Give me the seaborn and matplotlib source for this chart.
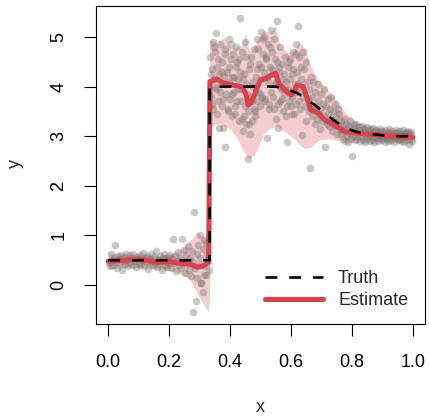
import matplotlib
matplotlib.use("Agg")
import matplotlib.pyplot as plt
import seaborn as sns
import pandas as pd
import numpy as np

# ---------------- data ----------------
left_x = [0.003, 0.006, 0.010, 0.013, 0.016, 0.020, 0.023, 0.026, 0.030, 0.033,
          0.036, 0.040, 0.043, 0.046, 0.050, 0.053, 0.056, 0.060, 0.063, 0.066,
          0.070, 0.073, 0.076, 0.080, 0.083, 0.086, 0.090, 0.093, 0.096, 0.100,
          0.103, 0.106, 0.110, 0.113, 0.116, 0.120, 0.123, 0.126, 0.130, 0.133,
          0.136, 0.140, 0.143, 0.146, 0.150, 0.153, 0.156, 0.160, 0.163, 0.166,
          0.170, 0.173, 0.176, 0.180, 0.183, 0.186, 0.190, 0.193, 0.196, 0.200,
          0.203, 0.206, 0.210, 0.213, 0.216, 0.220, 0.223, 0.226, 0.230, 0.233,
          0.236, 0.240, 0.243, 0.246, 0.250, 0.253, 0.256, 0.260, 0.263, 0.266,
          0.270, 0.273, 0.276, 0.280, 0.283, 0.286, 0.290, 0.293, 0.296, 0.300,
          0.303, 0.306, 0.310, 0.313, 0.316, 0.320, 0.323, 0.326, 0.330]
left_y = [0.45, 0.38, 0.62, 0.50, 0.41, 0.55, 0.80, 0.47, 0.35, 0.58,
          0.52, 0.44, 0.61, 0.30, 0.49, 0.56, 0.42, 0.63, 0.51, 0.39,
          0.60, 0.46, 0.55, 0.40, 0.62, 0.48, 0.36, 0.57, 0.53, 0.45,
          0.60, 0.41, 0.50, 0.64, 0.38, 0.55, 0.47, 0.59, 0.33, 0.52,
          0.44, 0.62, 0.49, 0.40, 0.57, 0.46, 0.68, 0.36, 0.51, 0.43,
          0.58, 0.48, 0.30, 0.55, 0.62, 0.41, 0.50, 0.37, 0.56, 0.45,
          0.60, 0.34, 0.52, 0.93, 0.44, 0.58, 0.28, 0.49, 0.66, 0.40,
          0.55, 0.35, 0.93, 0.47, 0.70, 0.25, 0.60, 0.42, 0.78, 0.30,
          0.55, 0.18, 0.68, 0.46, 1.47, 0.35, 0.62, 0.15, 0.80, 0.40,
          0.55, 0.05, 0.72, 0.38, 0.90, 0.20, 0.50, 0.62, 0.30]

mid_x = [0.335, 0.338, 0.340, 0.343, 0.345, 0.348, 0.350, 0.353, 0.355, 0.358,
         0.360, 0.363, 0.365, 0.368, 0.370, 0.373, 0.375, 0.378, 0.380, 0.383,
         0.385, 0.388, 0.390, 0.393, 0.395, 0.398, 0.400, 0.403, 0.405, 0.408,
         0.410, 0.413, 0.415, 0.418, 0.420, 0.423, 0.425, 0.428, 0.430, 0.433,
         0.435, 0.438, 0.440, 0.443, 0.445, 0.448, 0.450, 0.453, 0.455, 0.458,
         0.460, 0.463, 0.465, 0.468, 0.470, 0.473, 0.475, 0.478, 0.480, 0.483,
         0.485, 0.488, 0.490, 0.493, 0.495, 0.498, 0.500, 0.503, 0.505, 0.508,
         0.510, 0.513, 0.515, 0.518, 0.520, 0.523, 0.525, 0.528, 0.530, 0.533,
         0.535, 0.538, 0.540, 0.543, 0.545, 0.548, 0.550, 0.553, 0.555, 0.558,
         0.560, 0.563, 0.565, 0.568, 0.570, 0.573, 0.575, 0.578, 0.580, 0.583,
         0.585, 0.588, 0.590, 0.593, 0.595, 0.598, 0.600, 0.603, 0.605, 0.608,
         0.610, 0.613, 0.615, 0.618, 0.620, 0.623, 0.625, 0.628, 0.630, 0.633,
         0.635, 0.638, 0.640, 0.643, 0.645, 0.648, 0.650, 0.653, 0.655, 0.658,
         0.660, 0.663, 0.665]
mid_y = [4.60, 3.80, 4.35, 4.90, 3.55, 4.15, 4.70, 3.95, 5.08, 4.40,
         3.70, 4.25, 3.16, 4.85, 4.05, 3.60, 4.50, 3.16, 4.20, 2.78,
         4.75, 3.85, 4.30, 3.50, 4.95, 4.10, 3.75, 4.55, 3.40, 4.20,
         4.65, 3.90, 3.45, 4.40, 4.80, 3.70, 4.15, 3.30, 4.55, 5.38,
         3.95, 3.35, 4.70, 3.10, 4.25, 3.60, 4.90, 3.25, 4.05, 2.54,
         3.50, 4.35, 3.05, 3.80, 4.60, 3.30, 4.10, 3.55, 4.75, 3.40,
         4.20, 3.70, 4.95, 3.90, 4.45, 3.60, 5.10, 4.15, 3.80, 4.65,
         4.30, 5.00, 3.75, 4.55, 2.96, 4.85, 4.10, 3.65, 4.40, 5.15,
         3.90, 4.70, 4.25, 3.55, 4.95, 4.05, 3.35, 5.32, 4.50, 3.16,
         4.30, 3.70, 4.80, 3.95, 4.45, 3.50, 4.15, 3.85, 4.60, 3.40,
         4.10, 2.88, 4.40, 3.70, 3.95, 4.55, 3.60, 4.25, 3.80, 4.70,
         3.45, 4.05, 4.85, 3.65, 4.30, 5.22, 3.90, 4.60, 3.55, 4.15,
         3.02, 4.70, 3.80, 4.35, 3.60, 4.50, 3.30, 4.10, 3.75, 3.95,
         3.50, 2.36, 4.20]

mid2_x = [0.337, 0.342, 0.347, 0.352, 0.357, 0.362, 0.367, 0.372, 0.377, 0.382,
          0.387, 0.392, 0.397, 0.402, 0.407, 0.412, 0.417, 0.422, 0.427, 0.432,
          0.437, 0.442, 0.447, 0.452, 0.457, 0.462, 0.467, 0.472, 0.477, 0.482,
          0.487, 0.492, 0.497, 0.502, 0.507, 0.512, 0.517, 0.522, 0.527, 0.532,
          0.537, 0.542, 0.547, 0.552, 0.557, 0.562, 0.567, 0.572, 0.577, 0.582,
          0.587, 0.592, 0.597, 0.602, 0.607, 0.612, 0.617, 0.622, 0.627, 0.632]
mid2_y = [4.25, 3.65, 4.80, 4.00, 3.45, 4.55, 3.90, 4.30, 3.75, 4.65,
          4.05, 3.55, 4.40, 4.85, 3.85, 4.20, 3.60, 4.50, 3.95, 4.30,
          3.70, 4.15, 3.40, 4.60, 3.85, 3.25, 4.45, 3.70, 4.00, 3.50,
          4.35, 4.75, 3.85, 4.40, 4.95, 3.70, 4.60, 4.20, 3.55, 4.80,
          4.35, 3.80, 4.55, 4.10, 3.65, 4.40, 4.00, 3.75, 4.25, 3.95,
          3.60, 4.50, 4.15, 3.45, 4.35, 3.90, 4.65, 4.05, 3.70, 4.40]

trans_x = [0.668, 0.670, 0.673, 0.675, 0.678, 0.680, 0.683, 0.685, 0.688, 0.690,
           0.693, 0.695, 0.698, 0.700, 0.703, 0.705, 0.708, 0.710, 0.713, 0.715,
           0.718, 0.720, 0.723, 0.725, 0.728, 0.730, 0.733, 0.735, 0.738, 0.740,
           0.743, 0.745, 0.748, 0.750, 0.753, 0.755, 0.758, 0.760]
trans_y = [3.80, 3.40, 4.10, 3.55, 3.25, 3.90, 3.60, 3.35, 4.05, 3.70,
           3.45, 3.15, 3.85, 3.55, 3.30, 3.65, 3.95, 3.40, 2.78, 3.60,
           3.25, 3.75, 3.45, 3.20, 3.55, 3.35, 3.80, 3.10, 3.50, 3.30,
           3.65, 3.20, 3.40, 3.05, 3.55, 3.25, 3.45, 3.15]

right_x = [0.763, 0.765, 0.768, 0.770, 0.773, 0.775, 0.778, 0.780, 0.783, 0.785,
           0.788, 0.790, 0.793, 0.795, 0.798, 0.800, 0.803, 0.805, 0.808, 0.810,
           0.813, 0.815, 0.818, 0.820, 0.823, 0.825, 0.828, 0.830, 0.833, 0.835,
           0.838, 0.840, 0.843, 0.845, 0.848, 0.850, 0.853, 0.855, 0.858, 0.860,
           0.863, 0.865, 0.868, 0.870, 0.873, 0.875, 0.878, 0.880, 0.883, 0.885,
           0.888, 0.890, 0.893, 0.895, 0.898, 0.900, 0.903, 0.905, 0.908, 0.910,
           0.913, 0.915, 0.918, 0.920, 0.923, 0.925, 0.928, 0.930, 0.933, 0.935,
           0.938, 0.940, 0.943, 0.945, 0.948, 0.950, 0.953, 0.955, 0.958, 0.960,
           0.963, 0.965, 0.968, 0.970, 0.973, 0.975, 0.978, 0.980, 0.983, 0.985,
           0.988, 0.990, 0.993, 0.995, 0.998]
right_y = [3.30, 3.05, 3.20, 2.95, 3.35, 3.10, 2.90, 3.25, 3.00, 3.15,
           2.88, 3.20, 3.05, 3.30, 2.95, 2.60, 3.15, 3.00, 3.22, 2.92,
           3.10, 3.25, 2.95, 3.05, 3.18, 2.90, 3.12, 3.00, 3.20, 2.93,
           3.08, 3.15, 2.88, 3.02, 3.18, 2.95, 3.10, 3.00, 2.90, 3.14,
           3.04, 2.92, 3.16, 3.00, 2.88, 3.10, 2.96, 3.12, 3.02, 2.90,
           3.08, 2.95, 3.15, 3.00, 2.92, 3.10, 2.98, 3.05, 2.88, 3.12,
           3.00, 2.94, 3.08, 2.90, 3.14, 2.98, 3.04, 2.92, 3.10, 3.00,
           2.88, 3.06, 2.96, 3.12, 3.00, 2.92, 3.08, 2.95, 3.10, 2.90,
           3.02, 2.96, 3.12, 2.88, 3.05, 2.98, 3.08, 2.92, 3.00, 3.10,
           2.85, 3.04, 2.95, 3.08, 2.90]

extra_x = [0.280, 0.288, 0.305, 0.310, 0.300, 0.320, 0.315]
extra_y = [-0.54, -0.32, 0.05, -0.15, 1.00, 0.85, 0.20]

truth_x = [0.0, 0.333, 0.333, 0.55, 0.58, 0.62, 0.65, 0.686, 0.71, 0.73,
           0.76, 0.78, 0.82, 0.85, 0.9, 0.95, 1.0]
truth_y = [0.5, 0.5, 4.0, 4.0, 3.96, 3.87, 3.76, 3.59, 3.47, 3.37,
           3.24, 3.16, 3.08, 3.05, 3.02, 3.0, 3.0]

est_x = [0.0, 0.05, 0.106, 0.16, 0.2, 0.237, 0.27, 0.293, 0.31, 0.322,
         0.330, 0.334, 0.345, 0.357, 0.379, 0.41, 0.44, 0.452, 0.46, 0.47,
         0.48, 0.49, 0.50, 0.52, 0.535, 0.55, 0.56, 0.58, 0.60, 0.61,
         0.62, 0.64, 0.655, 0.665, 0.69, 0.71, 0.73, 0.75, 0.78, 0.82,
         0.9, 1.0]
est_y = [0.48, 0.50, 0.52, 0.46, 0.47, 0.44, 0.42, 0.36, 0.38, 0.42,
         0.46, 4.10, 4.12, 4.15, 4.07, 4.03, 4.0, 3.85, 3.63, 3.68,
         3.83, 4.0, 4.13, 4.17, 4.23, 4.27, 4.07, 3.93, 3.83, 3.9,
         4.03, 4.0, 3.73, 3.53, 3.47, 3.33, 3.27, 3.19, 3.09, 3.06,
         3.02, 2.98]

band_x = [0.0, 0.05, 0.1, 0.15, 0.2, 0.24, 0.27, 0.29, 0.31, 0.32,
          0.328, 0.333, 0.336, 0.36, 0.38, 0.40, 0.42, 0.44, 0.45, 0.46,
          0.47, 0.48, 0.49, 0.50, 0.51, 0.53, 0.55, 0.565, 0.59, 0.61,
          0.625, 0.645, 0.665, 0.69, 0.72, 0.75, 0.78, 0.82, 0.9, 1.0]
band_lo = [0.32, 0.35, 0.36, 0.32, 0.30, 0.22, 0.10, -0.15, -0.35, -0.45,
           -0.55, -0.30, 3.20, 3.25, 3.22, 3.15, 3.0, 2.75, 2.65, 2.55,
           2.58, 2.62, 2.75, 2.9, 3.05, 3.15, 3.2, 3.15, 3.05, 2.95,
           2.85, 2.75, 2.78, 2.92, 2.95, 2.92, 2.92, 2.92, 2.9, 2.86]
band_hi = [0.65, 0.62, 0.63, 0.60, 0.62, 0.72, 0.90, 1.05, 1.00, 0.95,
           0.90, 4.94, 4.94, 4.88, 5.0, 4.8, 4.78, 4.85, 5.08, 4.78,
           4.7, 4.85, 4.94, 5.05, 5.14, 5.08, 5.24, 4.8, 4.68, 4.74,
           4.9, 4.78, 4.4, 4.13, 3.93, 3.73, 3.47, 3.27, 3.15, 3.1]

x_ticks = [0.0, 0.2, 0.4, 0.6, 0.8, 1.0]
x_tick_labels = ["0.0", "0.2", "0.4", "0.6", "0.8", "1.0"]
y_ticks = [0, 1, 2, 3, 4, 5]
y_tick_labels = ["0", "1", "2", "3", "4", "5"]

# ---------------- styling ----------------
sns.set_style("white")
plt.rcParams["font.family"] = ["Liberation Sans", "DejaVu Sans"]

RED = "#D6454F"
BAND = "#F3CDD0"

pts = pd.DataFrame({
    "x": left_x + mid_x + mid2_x + trans_x + right_x + extra_x,
    "y": left_y + mid_y + mid2_y + trans_y + right_y + extra_y,
})
truth = pd.DataFrame({"x": truth_x, "y": truth_y})
est = pd.DataFrame({"x": est_x, "y": est_y})

W, H = 429, 416
fig = plt.figure(figsize=(W / 100, H / 100), dpi=100)
ax = fig.add_axes([96 / W, 1 - 324 / H, (425 - 96) / W, (324 - 6) / H])

ax.fill_between(band_x, band_lo, band_hi, color=BAND, linewidth=0, zorder=1)
sns.scatterplot(data=pts, x="x", y="y", ax=ax, color="#787070", alpha=0.38,
                s=30, linewidth=0, zorder=2, legend=False)
sns.lineplot(data=est, x="x", y="y", ax=ax, color=RED, linewidth=3.7,
             estimator=None, sort=False, zorder=3, label="Estimate")
sns.lineplot(data=truth, x="x", y="y", ax=ax, color="black", linewidth=1.9,
             estimator=None, sort=False, zorder=4, label="Truth")
ax.lines[-1].set_dashes([4.5, 4.5])
ax.lines[-2].set_solid_joinstyle("round")

ax.set_xlim(-0.04, 1.04)
ax.set_ylim(-0.786, 5.625)
ax.set_xticks(x_ticks)
ax.set_xticklabels(x_tick_labels)
ax.set_yticks(y_ticks)
ax.set_yticklabels(y_tick_labels, rotation=90, va="center")

ax.tick_params(axis="both", direction="out", length=8.5, width=0.8,
               color="black", labelsize=13, labelcolor="black",
               bottom=True, left=True)
ax.tick_params(axis="x", pad=13)
ax.tick_params(axis="y", pad=12)
for sp in ax.spines.values():
    sp.set_visible(True)
    sp.set_color("black")
    sp.set_linewidth(0.8)

ax.set_xlabel("x", fontsize=13)
ax.set_ylabel("y", fontsize=13)
ax.xaxis.set_label_coords((260 - 96) / 329, (324 - 408) / 318)
ax.xaxis.label.set_va("center")
ax.yaxis.set_label_coords((15 - 96) / 329, (324 - 163) / 318)
ax.yaxis.label.set_va("center")

handles, labels = ax.get_legend_handles_labels()
order = [labels.index("Truth"), labels.index("Estimate")]
leg = ax.legend([handles[i] for i in order], [labels[i] for i in order],
                loc="upper left", bbox_to_anchor=((265 - 96) / 329, (324 - 270) / 318),
                frameon=False, fontsize=13, borderaxespad=0, borderpad=0,
                handlelength=3.2, handletextpad=0.85, labelspacing=0.3)

fig.savefig("out.png", dpi=100)
